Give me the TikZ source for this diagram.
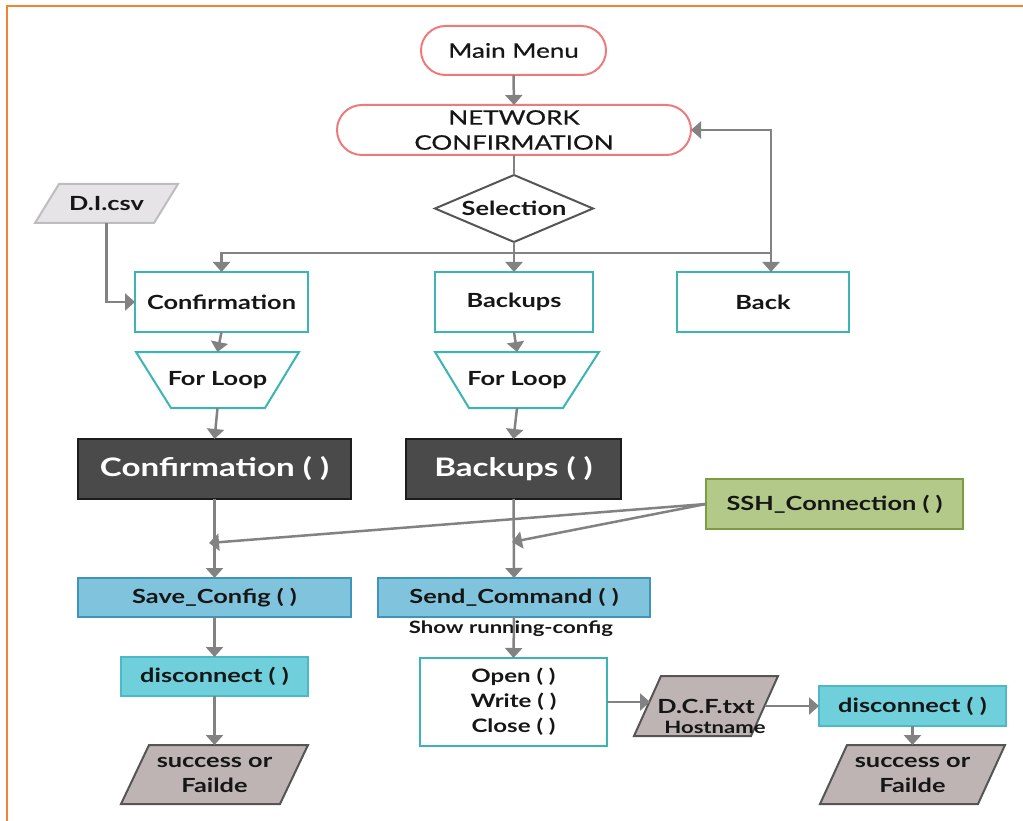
\documentclass[tikz,border=0pt]{standalone}
\usepackage{fontspec}
\setmainfont{Lato}[FakeStretch=1.3]
\newfontfamily\latomedium{Lato}[FakeStretch=1.3, FakeBold=0.7]
\usetikzlibrary{arrows.meta,calc,backgrounds}

\definecolor{frameorange}{HTML}{F2832F}
\definecolor{termred}{HTML}{EE7B7B}
\definecolor{tealline}{HTML}{3AB4B4}
\definecolor{arrowgray}{HTML}{828282}
\definecolor{darkfill}{HTML}{4A4A4A}
\definecolor{darkline}{HTML}{1C1C1C}
\definecolor{sshfill}{HTML}{B2C98A}
\definecolor{sshline}{HTML}{7C9D40}
\definecolor{bluefill}{HTML}{80C3DC}
\definecolor{blueline}{HTML}{3F95B9}
\definecolor{cyanfill}{HTML}{6FCFDB}
\definecolor{cyanline}{HTML}{4DB8C6}
\definecolor{iofill}{HTML}{BEB4B4}
\definecolor{ioline}{HTML}{555555}
\definecolor{csvfill}{HTML}{E6E4E7}
\definecolor{csvline}{HTML}{BDBDBD}
\definecolor{diamline}{HTML}{555555}
\definecolor{inkblack}{HTML}{161616}

\begin{document}
\begin{tikzpicture}[x=1pt,y=-1pt,
  every node/.style={inner sep=0pt, outer sep=0pt, align=center, text=inkblack},
  sz/.style 2 args={minimum width=#1, minimum height=#2},
  regtext/.style={font=\fontsize{20}{25}\selectfont\latomedium},
  boldtext/.style={font=\fontsize{19.5}{25}\selectfont\bfseries},
  bigtext/.style={font=\fontsize{25.5}{30}\selectfont\bfseries},
  smalltext/.style={font=\fontsize{17}{20}\selectfont\bfseries},
  terminal/.style={draw=termred, line width=2pt, fill=white, regtext},
  process/.style={draw=tealline, line width=2pt, fill=white, boldtext},
  darkbox/.style={draw=darkline, line width=2pt, fill=darkfill, bigtext, text=white},
  sshbox/.style={draw=sshline, line width=2pt, fill=sshfill, boldtext},
  callbox/.style={draw=blueline, line width=2pt, fill=bluefill, boldtext},
  endbox/.style={draw=cyanline, line width=2pt, fill=cyanfill, boldtext},
  shapeholder/.style={boldtext},
  iopoly/.style={draw=ioline, line width=2pt, fill=iofill, line join=miter},
  csvpoly/.style={draw=csvline, line width=2pt, fill=csvfill},
  looppoly/.style={draw=tealline, line width=2pt, fill=white},
  diampoly/.style={draw=diamline, line width=2pt, fill=white},
  conn/.style={draw=arrowgray, line width=2.5pt},
  arrow/.style={conn, -{Triangle[length=10pt, width=17pt]}},
  frameline/.style={draw=frameorange, line width=2.5pt}
]
\useasboundingbox (0,0) rectangle (1023,821);

% outer frame, top and left edges
\draw[frameline] (7,821) -- (7,6) -- (1023,6);

% ---------- nodes ----------
\node[terminal, sz={185}{49}, rounded corners=24.5pt] (main) at (513.5,50.5) {Main Menu};
\node[terminal, sz={354}{50}, rounded corners=25pt] (net) at (514,130) {NETWORK\\CONFIRMATION};
\node[shapeholder, sz={158}{67}] (sel) at (514,208.5) {Selection};
\node[shapeholder, sz={143}{39}] (dicsv) at (106.5,203.5) {D.I.csv};

\node[process, sz={173}{60}] (confA) at (221.5,302) {Confirmation};
\node[process, sz={158}{60}] (bkA) at (514,302) {Backups};
\node[process, sz={172}{60}] (back) at (763,302) {Back};

\node[shapeholder, sz={163}{56}] (loopA) at (217.5,380) {For Loop};
\node[shapeholder, sz={164}{56}] (loopB) at (517,380) {For Loop};

\node[darkbox, sz={273}{60}] (cfun) at (214.5,469) {Confirmation ( )};
\node[darkbox, sz={215}{60}] (bfun) at (513.5,469) {Backups ( )};
\node[sshbox, sz={257}{50}] (ssh) at (834.5,504) {SSH\_Connection ( )};

\node[callbox, sz={273}{39}] (save) at (214.5,597.5) {Save\_Config ( )};
\node[callbox, sz={272}{39}] (send) at (514,597.5) {Send\_Command ( )};
\node[smalltext] (showcfg) at (511,629) {Show running-config};

\node[endbox, sz={187}{39}] (discA) at (214.5,676.5) {disconnect ( )};
\node[process, sz={187}{88}, font=\fontsize{18.5}{25}\selectfont\bfseries] (owc) at (513.5,702) {Open ( )\\Write ( )\\Close ( )};
\node[shapeholder, sz={144}{60}] (dcf) at (706,706) {D.C.F.txt};
\node[smalltext] (host) at (715,727) {Hostname};
\node[endbox, sz={187}{40}] (discB) at (912.5,706) {disconnect ( )};

\node[shapeholder, sz={187}{59}] (succA) at (214.5,774.5) {success or\\Failde};
\node[shapeholder, sz={185}{59}] (succB) at (912.5,774.5) {success or\\Failde};

% ---------- outlines of the non-rectangular symbols ----------
\begin{pgfonlayer}{background}
  \draw[diampoly] (sel.north) -- (sel.east) -- (sel.south) -- (sel.west) -- cycle;
  \draw[csvpoly] ($(dicsv.north west)+(24,0)$) -- (dicsv.north east)
     -- ($(dicsv.south east)+(-24,0)$) -- (dicsv.south west) -- cycle;
  \draw[looppoly] (loopA.north west) -- (loopA.north east)
     -- ($(loopA.south east)+(-34,0)$) -- ($(loopA.south west)+(35,0)$) -- cycle;
  \draw[looppoly] (loopB.north west) -- (loopB.north east)
     -- ($(loopB.south east)+(-36,0)$) -- ($(loopB.south west)+(34,0)$) -- cycle;
  \draw[iopoly] ($(dcf.north west)+(27,0)$) -- (dcf.north east)
     -- ($(dcf.south east)+(-27,0)$) -- (dcf.south west) -- cycle;
  \draw[iopoly] ($(succA.north west)+(28,0)$) -- (succA.north east)
     -- ($(succA.south east)+(-28,0)$) -- (succA.south west) -- cycle;
  \draw[iopoly] ($(succB.north west)+(27,0)$) -- (succB.north east)
     -- ($(succB.south east)+(-27,0)$) -- (succB.south west) -- cycle;
\end{pgfonlayer}

% ---------- connectors ----------
\coordinate (split) at ($(sel.south)+(0,11)$);
\coordinate (backin) at ($(back.north)+(8,0)$);
\coordinate (jA) at (209,543);
\coordinate (jB) at (512,542);
\coordinate (dcfin) at ($(dcf.west)+(16,0)$);
\coordinate (dcfout) at ($(dcf.east)+(-13,0)$);

\draw[arrow] (main.south) -- (net.north);
\draw[conn] (net.south) -- (sel.north);
\draw[arrow] (sel.south) -- (bkA.north);
\draw[arrow] (split) -| (confA.north);
\draw[arrow] (split) -| (backin);
\draw[arrow] (backin) |- (net.east);
\draw[arrow] (dicsv.south) |- (confA.west);

\draw[arrow] (confA.south) -- (loopA.north);
\draw[arrow] (loopA.south) -- (cfun.north);
\draw[arrow] (cfun.south) -- (save.north);
\draw[arrow] (save.south) -- (discA.north);
\draw[arrow] (discA.south) -- (succA.north);

\draw[arrow] (bkA.south) -- (loopB.north);
\draw[arrow] (loopB.south) -- (bfun.north);
\draw[arrow] (bfun.south) -- (send.north);
\draw[arrow] (send.south) -- (owc.north);
\draw[arrow] (owc.east) -- (owc.east -| dcfin);
\draw[arrow] (dcfout) -- (discB.west);
\draw[arrow] (discB.south) -- (succB.north);

\draw[arrow] (ssh.west) -- (jA);
\draw[arrow] (ssh.west) -- (jB);
\end{tikzpicture}
\end{document}
